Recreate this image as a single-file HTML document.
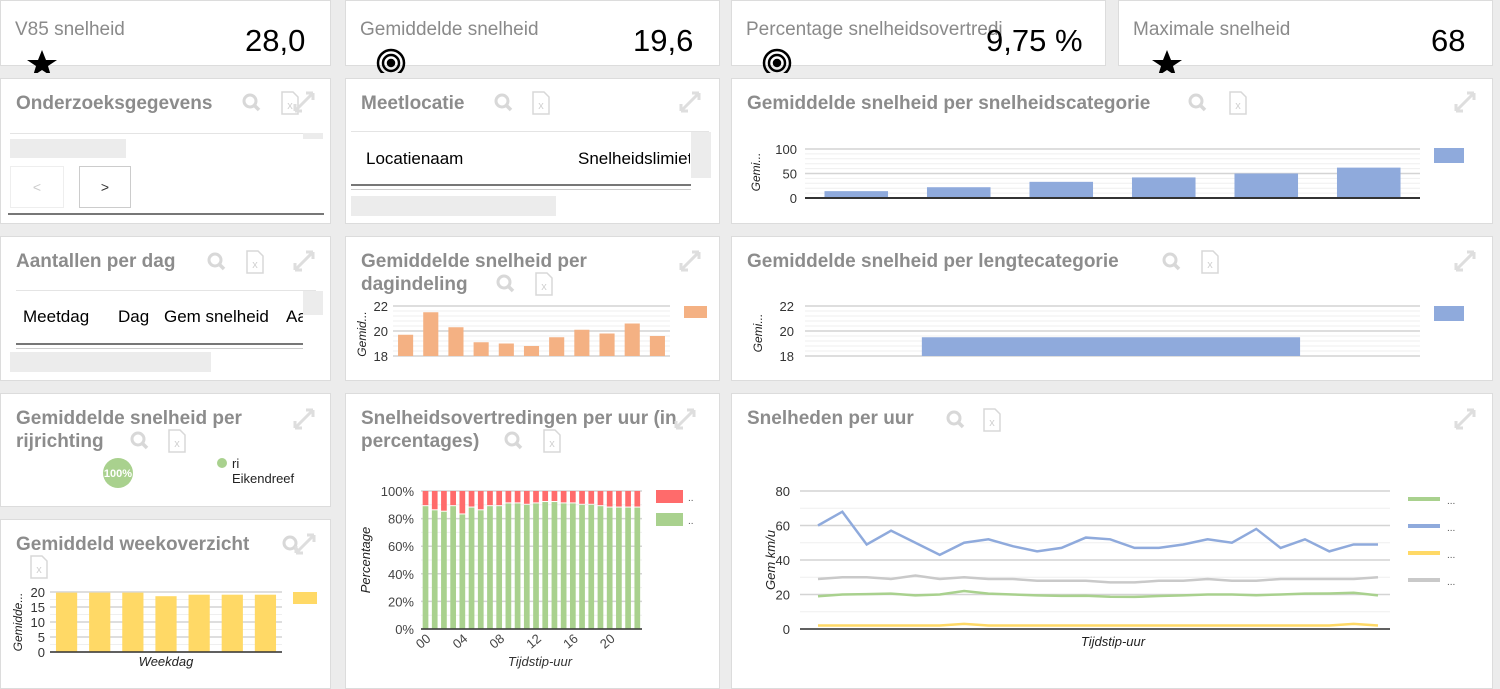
<!DOCTYPE html>
<html><head><meta charset="utf-8">
<style>
body{margin:0;width:1500px;height:679px;background:#ececec;position:relative;overflow:hidden;font-family:"Liberation Sans",sans-serif}
.p{position:absolute;background:#fff;border:1px solid #dcdcdc;box-sizing:border-box}
.kt{position:absolute;left:14px;top:18px;font-size:19px;color:#8a8a8a}
.kv{position:absolute;top:22px;font-size:31px;color:#000}
.t{position:absolute;left:15px;top:13px;font-size:19px;font-weight:bold;color:#8c8c8c;line-height:23px}
.th{position:absolute;font-size:17px;color:#000}
svg#ov{position:absolute;left:0;top:0}
</style></head><body>
<!-- KPI row -->
<div class="p" style="left:0;top:0;width:331px;height:66px;overflow:visible"><div class="kt">V85 snelheid</div><div class="kv" style="left:244px">28,0</div></div>
<div class="p" style="left:345px;top:0;width:375px;height:66px"><div class="kt">Gemiddelde snelheid</div><div class="kv" style="left:287px">19,6</div></div>
<div class="p" style="left:731px;top:0;width:375px;height:66px;overflow:hidden"><div class="kt">Percentage snelheidsovertredi</div><div class="kv" style="left:254px">9,75 %</div></div>
<div class="p" style="left:1118px;top:0;width:375px;height:66px"><div class="kt">Maximale snelheid</div><div class="kv" style="left:312px">68</div></div>

<!-- row 2 -->
<div class="p" style="left:0;top:78px;width:331px;height:146px">
<div class="t">Onderzoeksgegevens</div>
<div style="position:absolute;left:9px;top:54px;width:313px;height:1px;background:#e4e4e4"></div>
<div style="position:absolute;left:9px;top:60px;width:116px;height:19px;background:#ececec"></div>
<div style="position:absolute;left:302px;top:54px;width:20px;height:6px;background:#ececec"></div>
<div style="position:absolute;left:9px;top:87px;width:52px;height:40px;border:1px solid #eee;color:#ccc;text-align:center;line-height:40px;font-size:14px">&lt;</div>
<div style="position:absolute;left:78px;top:87px;width:50px;height:40px;border:1px solid #ccc;color:#333;text-align:center;line-height:40px;font-size:14px">&gt;</div>
<div style="position:absolute;left:7px;top:134px;width:316px;height:2px;background:#777"></div>
</div>
<div class="p" style="left:345px;top:78px;width:375px;height:146px;overflow:hidden">
<div class="t">Meetlocatie</div>
<div style="position:absolute;left:5px;top:52px;width:358px;height:1px;background:#e4e4e4"></div>
<div class="th" style="left:20px;top:70px">Locatienaam</div>
<div class="th" style="left:232px;top:70px;width:112px;overflow:hidden;white-space:nowrap">Snelheidslimiet</div>
<div style="position:absolute;left:345px;top:53px;width:20px;height:46px;background:#ececec"></div>
<div style="position:absolute;left:5px;top:105px;width:340px;height:3px;border-top:2px solid #777;border-bottom:1px solid #ccc"></div>
<div style="position:absolute;left:5px;top:117px;width:205px;height:20px;background:#ececec"></div>
</div>
<div class="p" style="left:731px;top:78px;width:762px;height:146px">
<div class="t">Gemiddelde snelheid per snelheidscategorie</div></div>

<!-- row 3 -->
<div class="p" style="left:0;top:236px;width:331px;height:145px;overflow:hidden">
<div class="t">Aantallen per dag</div>
<div style="position:absolute;left:15px;top:53px;width:300px;height:1px;background:#e4e4e4"></div>
<div class="th" style="left:22px;top:70px">Meetdag</div>
<div class="th" style="left:117px;top:70px">Dag</div>
<div class="th" style="left:163px;top:70px">Gem snelheid</div>
<div class="th" style="left:285px;top:70px;width:17px;overflow:hidden">Aantal</div>
<div style="position:absolute;left:302px;top:54px;width:20px;height:24px;background:#ececec"></div>
<div style="position:absolute;left:15px;top:106px;width:287px;height:3px;border-top:2px solid #777;border-bottom:1px solid #ccc"></div>
<div style="position:absolute;left:9px;top:115px;width:201px;height:20px;background:#ececec"></div>
</div>
<div class="p" style="left:345px;top:236px;width:375px;height:145px">
<div class="t">Gemiddelde snelheid per<br>dagindeling</div></div>
<div class="p" style="left:731px;top:236px;width:762px;height:145px">
<div class="t">Gemiddelde snelheid per lengtecategorie</div></div>

<!-- row 4 -->
<div class="p" style="left:0;top:393px;width:331px;height:114px">
<div class="t">Gemiddelde snelheid per<br>rijrichting</div></div>
<div class="p" style="left:0;top:519px;width:331px;height:170px">
<div class="t">Gemiddeld weekoverzicht</div></div>
<div class="p" style="left:345px;top:393px;width:375px;height:296px">
<div class="t">Snelheidsovertredingen per uur (in<br>percentages)</div></div>
<div class="p" style="left:731px;top:393px;width:762px;height:296px">
<div class="t">Snelheden per uur</div></div>

<svg id="ov" width="1500" height="679" xmlns="http://www.w3.org/2000/svg" font-family="Liberation Sans, sans-serif">
<polygon points="42,50 46,60 57,60 48,66 51,76 42,70 33,76 36,66 27,60 38,60" fill="#000"/>
<polygon points="1167,50 1171,60 1182,60 1173,66 1176,76 1167,70 1158,76 1161,66 1152,60 1163,60" fill="#000"/>
<g fill="none" stroke="#000" stroke-width="2.5"><circle cx="391" cy="63" r="13"/><circle cx="391" cy="63" r="8"/><circle cx="391" cy="63" r="3" fill="#000"/></g>
<g fill="none" stroke="#000" stroke-width="2.5"><circle cx="777" cy="63" r="13"/><circle cx="777" cy="63" r="8"/><circle cx="777" cy="63" r="3" fill="#000"/></g>
<rect x="0" y="73" width="1500" height="5" fill="#ececec"/>
<g id="icons"></g>
<g id="charts"></g>
</svg>

<script>
// ---------- data ----------
const catSpeedCats=["0-20","20-30","30-40","40-50","50-60","60+"];
const catSpeedVals=[14,22,33,42,50,62];
const lenCats=["alle"];
const lenVals=[19.5];
const dayPartCats=["d1","d2","d3","d4","d5","d6","d7","d8","d9","d10","d11"];
const dayPartVals=[19.7,21.5,20.3,19.1,19.0,18.8,19.5,20.1,19.8,20.6,19.6];
const weekCats=["ma","di","wo","do","vr","za","zo"];
const weekVals=[19.8,19.8,19.8,18.6,19.1,19.1,19.1];
const hourCats=["00","01","02","03","04","05","06","07","08","09","10","11","12","13","14","15","16","17","18","19","20","21","22","23"];
const okPct=[89,86,85,89,83,88,86,89,89,91,91,90,91,92,92,91,91,90,90,89,88,88,88,88];
const yPctTicks=["0%","20%","40%","60%","80%","100%"];
const vMax=[60,68,49,57,50,43,50,52,48,45,47,53,52,47,47,49,52,50,58,47,52,45,49,49];
const vV85=[29,30,30,29,31,29,30,29,29,28,28,28,27,27,28,28,29,28,28,29,29,29,29,30];
const vAvg=[19,20,20.2,20.5,19.5,20,22,20.5,20,19.5,19.2,19.3,18.7,18.6,19.1,19.5,20,20,19.6,20,20.5,20.6,21,19.5];
const vMin=[2,2,2,2,2,2,3,2,2,2,2,2,2,2,2,2,2,2,2,2,2,2,3,2];

const NS="http://www.w3.org/2000/svg";
const root=document.getElementById('charts');
function el(tag,attrs,parent){const e=document.createElementNS(NS,tag);for(const k in attrs)e.setAttribute(k,attrs[k]);(parent||root).appendChild(e);return e;}
function txt(s,attrs,parent){const e=el('text',attrs,parent);e.textContent=s;return e;}
function lin(d0,d1,r0,r1){return v=>r0+(v-d0)/(d1-d0)*(r1-r0);}

const icons=document.getElementById('icons');
function hdrIcons(mx,my,xx,xy,ex,ey){
  const g1=el('g',{},icons);
  
  
  el('circle',{cx:mx,cy:my-2,r:6,fill:'none',stroke:'#d8d8d8','stroke-width':3},g1);
  el('line',{x1:mx+4,y1:my+2,x2:mx+9,y2:my+7,stroke:'#d8d8d8','stroke-width':3.5},g1);
  const g2=el('g',{},icons);
  
  
  el('path',{d:`M${xx-8} ${xy-11}h11l5 5v17h-16z`,fill:'none',stroke:'#d8d8d8','stroke-width':1.5},g2);
  txt('x',{x:xx,y:xy+6,'font-size':11,'text-anchor':'middle',fill:'#d0d0d0'},g2);
  const g3=el('g',{},icons);
  
  
  el('path',{d:`M${ex-9} ${ey+8}L${ex+9} ${ey-10}M${ex+9} ${ey-10}h-7M${ex+9} ${ey-10}v7M${ex-9} ${ey+8}h7M${ex-9} ${ey+8}v-7`,stroke:'#dedede','stroke-width':3,fill:'none'},g3);
}
hdrIcons(250,103,290,103,304,103);hdrIcons(502,103,541,103,690,103);hdrIcons(1196,103,1238,103,1465,103);
hdrIcons(215,262,255,262,304,262);hdrIcons(504,284,544,284,690,262);hdrIcons(1170,262,1210,262,1465,262);
hdrIcons(138,441,177,441,304,420);hdrIcons(512,441,552,441,685,420);hdrIcons(954,420,992,420,1465,420);
hdrIcons(290,545,39,567,305,545);

function grid(x0,x1,yTop,yBot,n,minor,parent){
  for(let i=0;i<=n*minor;i++){const y=yBot-(yBot-yTop)*i/(n*minor);
    el('line',{x1:x0,x2:x1,y1:y,y2:y,stroke:i%minor?'#efefef':'#d4d4d4','stroke-width':i%minor?1:1.5},parent);}
}
function ytitle(s,x,y,size){return txt(s,{x:x,y:y,'font-size':size||12,'font-style':'italic',fill:'#222','text-anchor':'middle',transform:`rotate(-90 ${x} ${y})`});}

// ---- chart 1 ----
(function(){
 const g=el('g',{});
 const x0=805,x1=1420,yS=lin(0,100,198,149);
 grid(x0,x1,149,198,2,5,g);
 [0,50,100].forEach(v=>txt(String(v),{x:797,y:yS(v)+5,'font-size':13,'text-anchor':'end',fill:'#333'},g));
 const bw=(x1-x0)/catSpeedCats.length;
 catSpeedVals.forEach((v,i)=>{const r=el('rect',{x:x0+bw*i+bw*0.19,y:yS(v),width:bw*0.62,height:yS(0)-yS(v),fill:'#8faadc'},g);
  });
 el('line',{x1:x0,x2:x1,y1:198,y2:198,stroke:'#333','stroke-width':2},g);
 ytitle('Gemi...',760,172,12);
 const lg=el('rect',{x:1434,y:148,width:30,height:15,fill:'#8faadc'},g);
})();

// ---- chart 2 ----
(function(){
 const g=el('g',{});
 const x0=805,x1=1420,yS=lin(18,22,356,306);
 grid(x0,x1,306,356,2,5,g);
 [18,20,22].forEach(v=>txt(String(v),{x:794,y:yS(v)+5,'font-size':13,'text-anchor':'end',fill:'#333'},g));
 const bw=(x1-x0)/lenCats.length;
 lenVals.forEach((v,i)=>{const r=el('rect',{x:x0+bw*i+bw*0.19,y:yS(v),width:bw*0.615,height:yS(18)-yS(v),fill:'#8faadc'},g);
  });
 ytitle('Gemi...',762,333,12);
 const lg=el('rect',{x:1434,y:306,width:30,height:15,fill:'#8faadc'},g);
})();

// ---- chart 3 ----
(function(){
 const g=el('g',{});
 const x0=393,x1=670,yS=lin(18,22,356,306);
 grid(x0,x1,306,356,2,5,g);
 [18,20,22].forEach(v=>txt(String(v),{x:388,y:yS(v)+5,'font-size':13,'text-anchor':'end',fill:'#333'},g));
 const bw=(x1-x0)/dayPartCats.length;
 dayPartVals.forEach((v,i)=>{const r=el('rect',{x:x0+bw*i+bw*0.2,y:yS(v),width:bw*0.6,height:yS(18)-yS(v),fill:'#f4b183'},g);
  });
 ytitle('Gemid...',366,334,12);
 const lg=el('rect',{x:684,y:306,width:23,height:12,fill:'#f4b183'},g);
})();

// ---- chart 4 ----
(function(){
 const g=el('g',{});
 const x0=50,x1=282,yS=lin(0,20,652,592);
 grid(x0,x1,592,652,4,2,g);
 [0,5,10,15,20].forEach(v=>txt(String(v),{x:45,y:yS(v)+5,'font-size':13,'text-anchor':'end',fill:'#333'},g));
 const bw=(x1-x0)/weekCats.length;
 weekVals.forEach((v,i)=>{const r=el('rect',{x:x0+bw*i+bw*0.18,y:yS(v),width:bw*0.64,height:yS(0)-yS(v),fill:'#ffd966'},g);
  });
 el('line',{x1:x0,x2:x1,y1:652,y2:652,stroke:'#333','stroke-width':1.5},g);
 ytitle('Gemidde...',22,622,12);
 txt('Weekdag',{x:166,y:666,'font-size':13,'font-style':'italic',fill:'#222','text-anchor':'middle'},g);
 const lg=el('rect',{x:293,y:592,width:24,height:12,fill:'#ffd966'},g);
})();

// ---- chart 5 ----
(function(){
 const g=el('g',{});
 const x0=421,x1=642,yS=lin(0,100,629,491);
 grid(x0,x1,491,629,5,2,g);
 yPctTicks.forEach((s,i)=>txt(s,{x:414,y:yS(i*20)+5,'font-size':13,'text-anchor':'end',fill:'#444'},g));
 const bw=(x1-x0)/hourCats.length;
 okPct.forEach((v,i)=>{const x=x0+bw*i+bw*0.18,w=bw*0.62;
  const r1=el('rect',{x:x,y:yS(v),width:w,height:yS(0)-yS(v),fill:'#a9d18e'},g);
  
  const r2=el('rect',{x:x,y:yS(100),width:w,height:yS(v)-yS(100)-1,fill:'#ff6b6b'},g);
  
  if(i%4===0){const cx=x0+bw*(i+0.5);txt(hourCats[i],{x:cx+6,y:640,'font-size':13,fill:'#444','text-anchor':'end',transform:`rotate(-40 ${cx+6} 640)`},g);}
 });
 el('line',{x1:x0,x2:x1,y1:629,y2:629,stroke:'#333','stroke-width':1.5},g);
 ytitle('Percentage',370,560,13);
 txt('Tijdstip-uur',{x:540,y:666,'font-size':13,'font-style':'italic',fill:'#333','text-anchor':'middle'},g);
 const l1=el('rect',{x:656,y:490,width:27,height:13,fill:'#ff6b6b'},g);
 const l2=el('rect',{x:656,y:513,width:27,height:13,fill:'#a9d18e'},g);
 txt('..',{x:688,y:501,'font-size':10,fill:'#555'},g);txt('..',{x:688,y:524,'font-size':10,fill:'#555'},g);
})();

// ---- chart 6 ----
(function(){
 const g=el('g',{});
 const x0=800,x1=1390,yS=lin(0,80,629,491);
 grid(x0,x1,491,629,4,2,g);
 [0,20,40,60,80].forEach(v=>txt(String(v),{x:790,y:yS(v)+5,'font-size':13,'text-anchor':'end',fill:'#333'},g));
 el('line',{x1:x0,x2:x1,y1:629,y2:629,stroke:'#333','stroke-width':1.5},g);
 const xS=lin(0,hourCats.length-1,818,1378);
 const series=[[vAvg,'#a9d18e','line-gemiddeld'],[vMax,'#8faadc','line-max'],[vMin,'#ffd966','line-min'],[vV85,'#c9c9c9','line-v85']];
 [3,0,2,1].forEach(k=>{const [d,c,n]=series[k];
  const p=el('polyline',{points:d.map((v,i)=>xS(i)+','+yS(v)).join(' '),fill:'none',stroke:c,'stroke-width':2.5},g);
  });
 series.forEach(([d,c,n],k)=>{const y=499+k*27;
  const l=el('line',{x1:1408,x2:1440,y1:y,y2:y,stroke:c,'stroke-width':4},g);
  
  txt('...',{x:1447,y:y+5,'font-size':10,fill:'#555'},g);});
 ytitle('Gem km/u',775,560,13);
 txt('Tijdstip-uur',{x:1113,y:646,'font-size':13,'font-style':'italic',fill:'#222','text-anchor':'middle'},g);
})();

// ---- pie ----
(function(){
 const g=el('g',{});
 const c=el('circle',{cx:118,cy:473,r:15,fill:'#a9d18e'},g);
 txt('100%',{x:118,y:477,'font-size':11,'font-weight':'bold',fill:'#fff','text-anchor':'middle'},g);
 const d=el('circle',{cx:222,cy:463,r:5,fill:'#a9d18e'},g);
 txt('ri',{x:232,y:468,'font-size':13,fill:'#222'},g);
 txt('Eikendreef',{x:232,y:483,'font-size':13,fill:'#222'},g);
})();
</script>
</body></html>
